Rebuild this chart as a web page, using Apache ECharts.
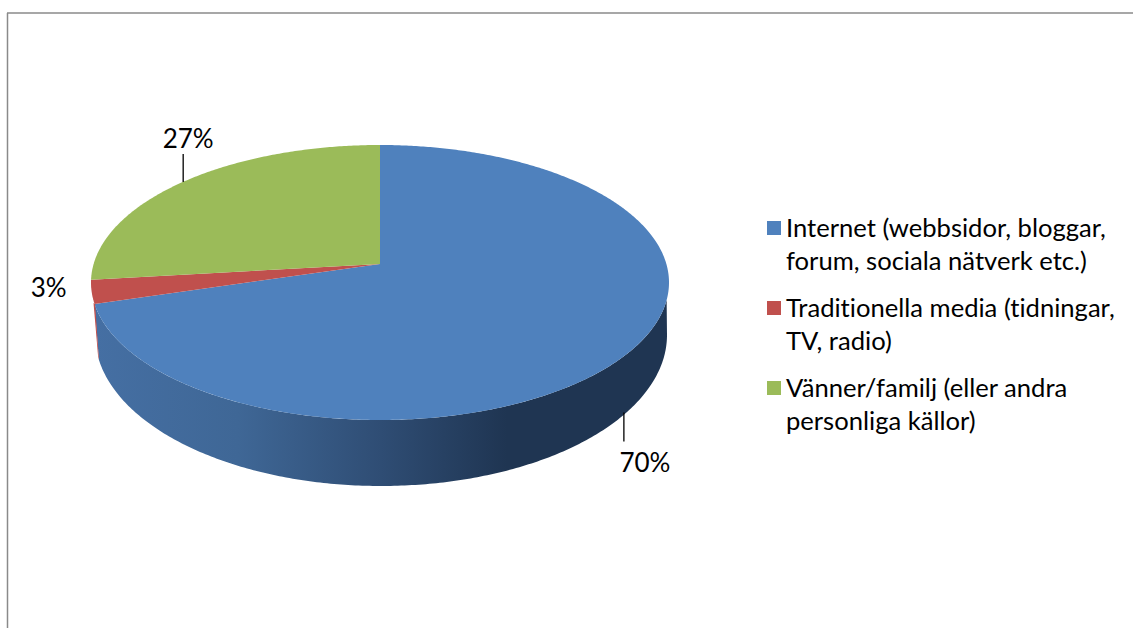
<!DOCTYPE html>
<html>
<head>
<meta charset="utf-8">
<style>html,body{margin:0;padding:0;background:#fff}#c{width:1133px;height:628px}#c text{font-variant-ligatures:none}</style>
<script src="https://cdn.jsdelivr.net/npm/echarts@6/dist/echarts.min.js"></script>
</head>
<body>
<div id="c"></div>
<script>
const categories = [
  "Internet (webbsidor, bloggar,\nforum, sociala nätverk etc.)",
  "Traditionella media (tidningar,\nTV, radio)",
  "Vänner/familj (eller andra\npersonliga källor)"
];
const values = [70, 3, 27];
const colors = ["#4f81bd", "#c0504d", "#9bbb59"];
const FONT = "Lato, Carlito, sans-serif";

// pie geometry (layout only)
const TOP = {cx: 380, cy: 282.5, rx: 289, ry: 137.5};
const BOT = {cx: 381, cy: 335, rx: 286, ry: 151};
const APEX = {x: 380, y: 264};
const TILT = 0.43;
const LABELS = [
  {tx: 7, ty: 117, lx: -14, l1: 68, l2: 97},
  {tx: -43, ty: -5},
  {tx: 14, ty: -48, lx: 9, l1: -32, l2: -4}
];
const total = values.reduce((a, b) => a + b, 0);
const rad = d => d * Math.PI / 180;

function rim(theta) {
  const dx = Math.sin(theta), dy = -TILT * Math.cos(theta);
  const ox = APEX.x - TOP.cx, oy = APEX.y - TOP.cy;
  const a = dx * dx / (TOP.rx * TOP.rx) + dy * dy / (TOP.ry * TOP.ry);
  const b = 2 * (ox * dx / (TOP.rx * TOP.rx) + oy * dy / (TOP.ry * TOP.ry));
  const c = ox * ox / (TOP.rx * TOP.rx) + oy * oy / (TOP.ry * TOP.ry) - 1;
  const t = (-b + Math.sqrt(b * b - 4 * a * c)) / (2 * a);
  return [APEX.x + t * dx, APEX.y + t * dy];
}
function ell(E, phi) { return [E.cx + E.rx * Math.cos(phi), E.cy + E.ry * Math.sin(phi)]; }
function phiOf(p) { return Math.atan2((p[1] - TOP.cy) / TOP.ry, (p[0] - TOP.cx) / TOP.rx); }

function renderSlice(i) {
  return function (params, api) {
    const before = values.slice(0, i).reduce((a, b) => a + b, 0);
    const v = api.value(0);
    const a0 = before / total * 2 * Math.PI, a1 = (before + v) / total * 2 * Math.PI;
    const pts = [[APEX.x, APEX.y]];
    const n = Math.max(4, Math.ceil((a1 - a0) / rad(0.5)));
    for (let k = 0; k <= n; k++) pts.push(rim(a0 + (a1 - a0) * k / n));
    const color = api.visual('color');
    const kids = [];
    if (i === 0) {
      // side wall under the largest slice
      const endP = rim(a1);
      const phiEnd = phiOf(endP);
      const phiStart = Math.asin((300 - TOP.cy) / TOP.ry);
      const wall = [];
      for (let k = 0; k <= 240; k++) wall.push(ell(TOP, phiStart + (phiEnd - phiStart) * k / 240));
      const phiB = Math.PI - Math.asin((360 - BOT.cy) / BOT.ry);
      for (let k = 0; k <= 240; k++) wall.push(ell(BOT, phiB * (1 - k / 240)));
      kids.push({
        type: 'polygon', shape: {points: wall},
        style: {fill: new echarts.graphic.LinearGradient(0, 0, 1, 0, [
          {offset: 0, color: '#456fa3'},
          {offset: 0.25, color: '#3f6796'},
          {offset: 0.5, color: '#2f4d74'},
          {offset: 0.72, color: '#1f3552'},
          {offset: 1, color: '#1f3552'}
        ])}
      });
    }
    if (i === 1) {
      const T = rim(a0);
      const phiB = Math.PI - Math.asin((360 - BOT.cy) / BOT.ry);
      const P = ell(BOT, phiB);
      kids.push({type: 'polygon', shape: {points: [[T[0] - 1, T[1] - 1], [T[0] + 0.6, T[1]], P, [P[0] - 0.8, P[1] - 3]]},
        style: {fill: color}});
    }
    kids.push({type: 'polygon', shape: {points: pts}, style: {fill: color}});

    const anchor = rim((a0 + a1) / 2);
    const L = LABELS[i];
    if (L.lx !== undefined) {
      kids.push({type: 'line',
        shape: {x1: anchor[0] + L.lx, y1: anchor[1] + L.l1, x2: anchor[0] + L.lx, y2: anchor[1] + L.l2},
        style: {stroke: '#000', lineWidth: 1.3}});
    }
    kids.push({type: 'text', style: {
      text: Math.round(v / total * 100) + '%', x: anchor[0] + L.tx, y: anchor[1] + L.ty,
      align: 'center', verticalAlign: 'middle', fontSize: 26, fontFamily: FONT, fill: '#000'}});
    return {type: 'group', children: kids};
  };
}

const chart = echarts.init(document.getElementById('c'), null, {renderer: 'svg'});
chart.setOption({
  animation: false,
  backgroundColor: '#fff',
  tooltip: {show: false},
  legend: {
    orient: 'vertical', left: 762, top: 205, itemWidth: 14, itemHeight: 66, itemGap: 14,
    selectedMode: false, data: categories,
    icon: 'path://M0 0L0 0M0 11H14V25H0ZM0 66L0 66',
    textStyle: {fontFamily: FONT, fontSize: 25.6, lineHeight: 33, color: '#000'}
  },
  graphic: [
    {type: 'line', shape: {x1: 7, y1: 13, x2: 1133, y2: 13}, style: {stroke: '#8a8a8a', lineWidth: 1.5}},
    {type: 'line', shape: {x1: 7.5, y1: 13, x2: 7.5, y2: 628}, style: {stroke: '#8a8a8a', lineWidth: 1.5}}
  ],
  series: categories.map((name, i) => ({
    type: 'custom', name, coordinateSystem: 'none',
    itemStyle: {color: colors[i]},
    data: [[values[i]]],
    renderItem: renderSlice(i),
    silent: true
  }))
});
</script>
</body>
</html>
